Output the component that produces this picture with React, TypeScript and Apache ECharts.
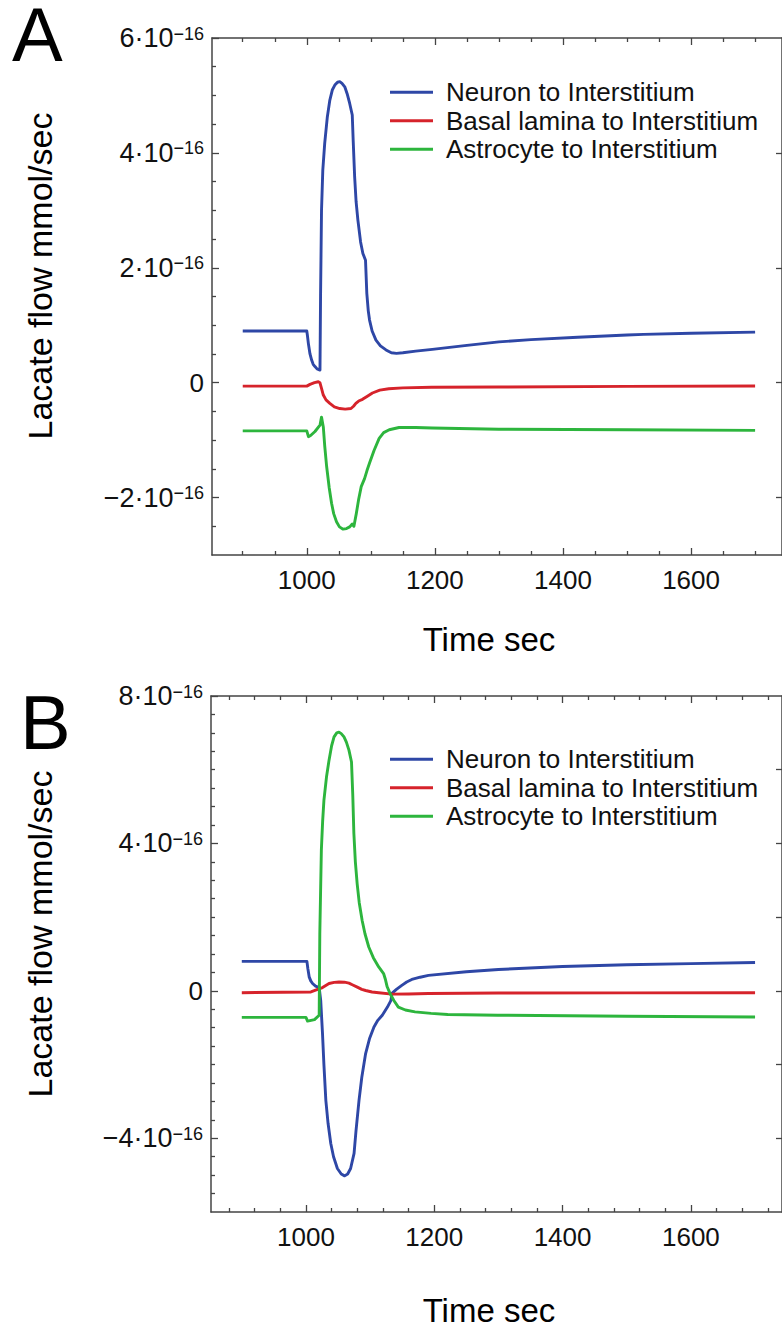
import React, { useEffect, useRef } from "react";
import * as echarts from "echarts";

// ---------- data (y values in units of 1e-16 mmol/sec) ----------
const SERIES_NAMES = ["Neuron to Interstitium", "Basal lamina to Interstitium", "Astrocyte to Interstitium"];
const COLORS = ["#2e47a6", "#d6232b", "#2db53d"];

const X_MAJOR = [1000, 1200, 1400, 1600];
const X_MINOR_A = [900, 950, 1050, 1100, 1150, 1250, 1300, 1350, 1450, 1500, 1550, 1650, 1700];
const X_MINOR_B = [880, 920, 960, 1040, 1080, 1120, 1160, 1240, 1280, 1320, 1360, 1440, 1480, 1520, 1560, 1640, 1680, 1720];

const Y_MAJOR_A = [-2, 0, 2, 4, 6];
const Y_MINOR_A = [-2.5, -1.5, -1, -0.5, 0.5, 1, 1.5, 2.5, 3, 3.5, 4.5, 5, 5.5];
const Y_RIGHT_A = [-2, 0, 2, 4];
const Y_MAJOR_B = [-4, 0, 4, 8];
const Y_MINOR_B = [-5.5, -5, -4.5, -3.5, -3, -2.5, -2, -1.5, -1, -0.5, 0.5, 1, 1.5, 2, 2.5, 3, 3.5, 4.5, 5, 5.5, 6, 6.5, 7, 7.5];
const Y_RIGHT_B = [-4, -2, 0, 2, 4, 6];

const neuronA: [number, number][] = [
  [900, 0.9], [1000, 0.9], [1001, 0.82], [1002.5, 0.68], [1005, 0.5], [1007.7, 0.39], [1010, 0.32], [1012.8, 0.28],
  [1016, 0.24], [1020.6, 0.22], [1021.5, 1.5], [1023, 3.0], [1025, 3.7], [1028, 4.17], [1032, 4.62], [1036, 4.92],
  [1040, 5.1], [1043.8, 5.18], [1048, 5.23], [1051.5, 5.24], [1055, 5.21], [1059.3, 5.15], [1063, 5.03], [1067, 4.86],
  [1071, 4.66], [1072.5, 4.2], [1074.7, 3.59], [1077, 3.15], [1079.8, 2.83], [1084, 2.45], [1087.6, 2.25], [1091.7, 2.13],
  [1093.7, 1.56], [1096, 1.25], [1098, 1.09], [1102, 0.9], [1108, 0.74], [1115, 0.64], [1123.7, 0.57], [1132, 0.52],
  [1140, 0.51], [1150, 0.52], [1170, 0.55], [1196, 0.58], [1250, 0.65], [1300, 0.71], [1350, 0.75], [1423, 0.79],
  [1500, 0.83], [1526, 0.84], [1600, 0.86], [1700, 0.88],
];
const basalA: [number, number][] = [
  [900, -0.06], [1000, -0.06], [1005, -0.03], [1012, 0.0], [1018, 0.016], [1020.5, 0.0], [1023, -0.1], [1025.8, -0.215],
  [1030, -0.3], [1036, -0.36], [1043, -0.42], [1051.5, -0.45], [1060, -0.46], [1069, -0.45], [1073, -0.41], [1076.6, -0.36],
  [1081, -0.32], [1087, -0.29], [1094, -0.24], [1102.5, -0.18], [1114, -0.13], [1128, -0.105], [1150, -0.09], [1195, -0.08],
  [1300, -0.075], [1500, -0.065], [1700, -0.058],
];
const astroA: [number, number][] = [
  [900, -0.84], [1000, -0.84], [1002.6, -0.94], [1006, -0.92], [1012.8, -0.85], [1020.6, -0.74], [1023, -0.6], [1025.8, -0.77],
  [1028, -1.1], [1031, -1.46], [1035, -1.83], [1038.7, -2.1], [1042, -2.28], [1046.4, -2.42], [1051, -2.51], [1056.7, -2.55],
  [1062, -2.54], [1067, -2.51], [1071, -2.46], [1073.6, -2.5], [1077.3, -2.28], [1081, -2.03], [1085, -1.81], [1090.2, -1.67],
  [1094, -1.53], [1098, -1.4], [1105, -1.18], [1113, -0.97], [1120, -0.87], [1128.8, -0.82], [1144, -0.78], [1170, -0.78],
  [1196, -0.79], [1300, -0.81], [1500, -0.82], [1700, -0.83],
];

const neuronB: [number, number][] = [
  [900, 0.8], [1001.5, 0.8], [1003, 0.6], [1005, 0.38], [1007.5, 0.27], [1010.3, 0.2], [1015, 0.13], [1020.6, 0.09],
  [1023, -0.26], [1025.8, -1.16], [1028, -2.0], [1031, -2.97], [1034.5, -3.6], [1038.7, -4.14], [1043, -4.5], [1049, -4.82],
  [1055, -4.97], [1060.3, -5.02], [1065, -4.97], [1069.6, -4.82], [1075, -4.41], [1078, -3.8], [1082.7, -2.97], [1087, -2.35],
  [1093, -1.7], [1099, -1.3], [1106, -0.98], [1112, -0.8], [1119, -0.66], [1127, -0.44], [1132.5, -0.26], [1134, -0.07],
  [1141, 0.04], [1149.4, 0.15], [1157, 0.24], [1165, 0.31], [1178, 0.37], [1191, 0.42], [1250, 0.52], [1300, 0.58],
  [1400, 0.66], [1500, 0.71], [1600, 0.74], [1700, 0.77],
];
const basalB: [number, number][] = [
  [900, -0.05], [1007.7, -0.03], [1015, 0.02], [1025.8, 0.09], [1036, 0.2], [1044, 0.23], [1051.5, 0.24], [1060, 0.235],
  [1067, 0.21], [1073, 0.16], [1080, 0.1], [1087, 0.04], [1093, 0.01], [1103, -0.03], [1113.4, -0.05], [1134, -0.09],
  [1160, -0.085], [1191, -0.07], [1300, -0.06], [1500, -0.055], [1700, -0.05],
];
const astroB: [number, number][] = [
  [900, -0.72], [1000, -0.72], [1002.5, -0.82], [1008, -0.8], [1013.3, -0.78], [1020.6, -0.66], [1021.6, 1.55], [1024, 3.81],
  [1026, 4.6], [1028, 5.17], [1032, 5.8], [1036, 6.26], [1040, 6.65], [1043.8, 6.89], [1048, 7.0], [1051.5, 7.02],
  [1055, 6.98], [1059.3, 6.89], [1063, 6.75], [1067, 6.53], [1071, 6.21], [1073, 5.3], [1074.7, 4.27], [1077, 3.5],
  [1079.8, 2.91], [1083, 2.4], [1087.6, 1.91], [1092, 1.55], [1097.9, 1.19], [1105, 0.9], [1113.4, 0.65], [1121, 0.47],
  [1124, 0.3], [1126.6, 0.11], [1131, -0.07], [1137, -0.26], [1144, -0.44], [1155, -0.52], [1170, -0.57], [1195, -0.61],
  [1221, -0.64], [1299, -0.66], [1500, -0.69], [1700, -0.71],
];

// ---------- styling ----------
const FONT = '"Liberation Sans", Arial, Helvetica, sans-serif';
const AXIS_COLOR = "#444";
const X_MIN = 852;
const X_MAX = 1742;

function yLabel(v: number): string {
  if (Math.abs(v) < 1e-9) return "{z|0}";
  const sign = v < 0 ? "\u2212" : "";
  return `{m|${sign}${Math.abs(v)}\u00B710}{s|\u221216}`;
}

const lineStyle = { color: AXIS_COLOR, width: 1.5 };
const tickStyle = { color: AXIS_COLOR, width: 1.3 };

function xAxes(grid: number, minor: number[]) {
  const base = {
    gridIndex: grid,
    type: "value",
    min: X_MIN,
    max: X_MAX,
    splitLine: { show: false },
  };
  return [
    {
      ...base,
      position: "bottom",
      axisLine: { show: true, onZero: false, lineStyle },
      axisTick: { show: true, inside: true, length: 7, customValues: X_MAJOR, lineStyle: tickStyle },
      axisLabel: {
        show: true,
        customValues: X_MAJOR,
        fontSize: 26,
        margin: 12,
        color: "#111",
        fontFamily: FONT,
        formatter: (v: number) => String(v),
      },
    },
    {
      ...base,
      position: "bottom",
      axisLine: { show: false, onZero: false },
      axisTick: { show: true, inside: true, length: 4, customValues: minor, lineStyle: tickStyle },
      axisLabel: { show: false },
    },
    {
      ...base,
      position: "top",
      axisLine: { show: true, onZero: false, lineStyle },
      axisTick: { show: true, inside: true, length: 7, customValues: X_MAJOR, lineStyle: tickStyle },
      axisLabel: { show: false },
    },
    {
      ...base,
      position: "top",
      axisLine: { show: false, onZero: false },
      axisTick: { show: true, inside: true, length: 4, customValues: minor, lineStyle: tickStyle },
      axisLabel: { show: false },
    },
  ];
}

function yAxes(grid: number, min: number, max: number, major: number[], minor: number[], right: number[]) {
  const base = { gridIndex: grid, type: "value", min, max, splitLine: { show: false } };
  return [
    {
      ...base,
      position: "left",
      axisLine: { show: true, onZero: false, lineStyle },
      axisTick: { show: true, inside: true, length: 7, customValues: major, lineStyle: tickStyle },
      axisLabel: {
        show: true,
        customValues: major,
        margin: 8,
        formatter: yLabel,
        rich: {
          z: { fontSize: 26, lineHeight: 26, fontFamily: FONT, color: "#111" },
          m: { fontSize: 27, lineHeight: 27, fontFamily: FONT, color: "#111", verticalAlign: "bottom" },
          s: { fontSize: 18, lineHeight: 18, fontFamily: FONT, color: "#111", padding: [0, 0, 10, 0], verticalAlign: "top" },
        },
      },
    },
    {
      ...base,
      position: "left",
      axisLine: { show: false, onZero: false },
      axisTick: { show: true, inside: true, length: 4, customValues: minor, lineStyle: tickStyle },
      axisLabel: { show: false },
    },
    {
      ...base,
      position: "right",
      axisLine: { show: true, onZero: false, lineStyle },
      axisTick: { show: true, inside: true, length: 6, customValues: right, lineStyle: tickStyle },
      axisLabel: { show: false },
    },
  ];
}

function lineSeries(name: string, color: string, data: [number, number][], xi: number, yi: number) {
  return {
    type: "line",
    name,
    data,
    xAxisIndex: xi,
    yAxisIndex: yi,
    showSymbol: false,
    symbol: "none",
    color,
    lineStyle: { color, width: 2.9, join: "round" },
    emphasis: { disabled: true },
  };
}

function legend(top: number) {
  return {
    left: 390,
    top,
    orient: "vertical",
    padding: 0,
    itemWidth: 43,
    itemHeight: 3,
    itemGap: 0,
    icon: "rect",
    selectedMode: false,
    data: SERIES_NAMES,
    textStyle: { fontSize: 26, lineHeight: 28.5, fontFamily: FONT, color: "#111", padding: [0, 0, 0, 8] },
  };
}

function textEl(text: string, x: number, y: number, size: number, opts: any = {}) {
  return {
    type: "text",
    x,
    y,
    rotation: opts.rotation || 0,
    style: {
      text,
      fontSize: size,
      lineHeight: opts.lineHeight || Math.round(size * 1.2),
      fontFamily: FONT,
      fontWeight: opts.weight || "normal",
      fill: "#000",
      align: opts.align || "center",
      verticalAlign: "middle",
    },
  };
}

export default function App() {
  const ref = useRef<HTMLDivElement>(null);
  useEffect(() => {
    if (!ref.current) return;
    const chart = echarts.init(ref.current, null, { renderer: "svg" });
    const option: any = {
      animation: false,
      backgroundColor: "#fff",
      grid: [
        { left: 212, top: 38, width: 573, height: 517 },
        { left: 211, top: 696, width: 574, height: 516 },
      ],
      xAxis: [...xAxes(0, X_MINOR_A), ...xAxes(1, X_MINOR_B)],
      yAxis: [
        ...yAxes(0, -3, 6, Y_MAJOR_A, Y_MINOR_A, Y_RIGHT_A),
        ...yAxes(1, -6, 8, Y_MAJOR_B, Y_MINOR_B, Y_RIGHT_B),
      ],
      legend: [legend(78), legend(745)],
      series: [
        lineSeries(SERIES_NAMES[0], COLORS[0], neuronA, 0, 0),
        lineSeries(SERIES_NAMES[1], COLORS[1], basalA, 0, 0),
        lineSeries(SERIES_NAMES[2], COLORS[2], astroA, 0, 0),
        lineSeries(SERIES_NAMES[0], COLORS[0], neuronB, 4, 3),
        lineSeries(SERIES_NAMES[1], COLORS[1], basalB, 4, 3),
        lineSeries(SERIES_NAMES[2], COLORS[2], astroB, 4, 3),
      ],
      graphic: [
        textEl("A", 12, 34, 76, { align: "left", lineHeight: 58 }),
        textEl("B", 20, 722, 76, { align: "left", lineHeight: 58 }),
        textEl("Lacate flow mmol/sec", 40, 276, 34, { rotation: Math.PI / 2 }),
        textEl("Lacate flow mmol/sec", 40, 934, 34, { rotation: Math.PI / 2 }),
        textEl("Time sec", 489, 639, 33),
        textEl("Time sec", 489, 1310, 33),
      ],
    };
    chart.setOption(option);
    return () => chart.dispose();
  }, []);
  return (
    <div
      ref={ref}
      style={{ position: "absolute", left: 0, top: 0, width: 782, height: 1327, background: "#fff" }}
    />
  );
}
